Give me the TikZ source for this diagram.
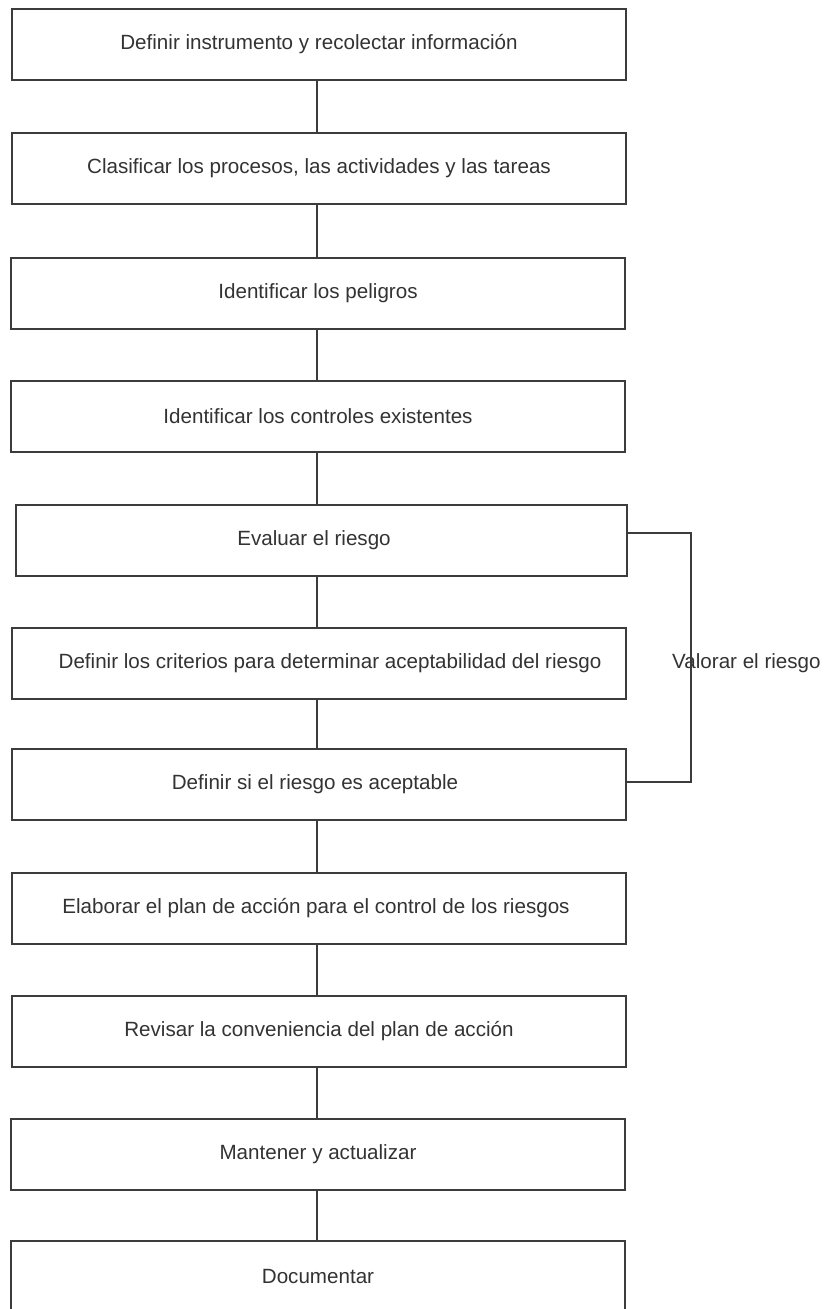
\documentclass[tikz,border=0pt]{standalone}
\usepackage{fontspec}
\setmainfont{Liberation Sans}
\usetikzlibrary{calc}
\definecolor{linec}{HTML}{3C3C3C}
\definecolor{textc}{HTML}{333333}
\tikzset{
  stepbox/.style={draw=linec, line width=2pt, minimum width=614pt, minimum height=71pt,
    inner sep=0pt, text=textc, font=\fontsize{20.6}{24}\selectfont, fill=white},
  conn/.style={draw=linec, line width=2pt},
  sidelabel/.style={text=textc, font=\fontsize{20.6}{24}\selectfont, inner sep=0pt}
}
\begin{document}
\begin{tikzpicture}[x=1pt,y=-1pt]
\clip (0,0) rectangle (827,1309);
\fill[white] (0,0) rectangle (827,1309);
\node[stepbox] (b1) at (319,44.5) {\raisebox{-2pt}{Definir instrumento y recolectar información}};
\node[stepbox] (b2) at (319,168.5) {\raisebox{-2pt}{Clasificar los procesos, las actividades y las tareas}};
\node[stepbox] (b3) at (318,293) {\raisebox{-2pt}{Identificar los peligros}};
\node[stepbox] (b4) at (318,416.5) {\raisebox{-2pt}{Identificar los controles existentes}};
\node[stepbox, minimum width=611pt] (b5) at (321.5,540) {\hspace*{-15pt}\raisebox{-2pt}{Evaluar el riesgo}};
\node[stepbox] (b6) at (319,663.5) {\hspace*{22pt}\raisebox{-2pt}{Definir los criterios para determinar aceptabilidad del riesgo}};
\node[stepbox] (b7) at (319,784.5) {\hspace*{-8pt}\raisebox{-2pt}{Definir si el riesgo es aceptable}};
\node[stepbox] (b8) at (319,908) {\hspace*{-6pt}\raisebox{-2pt}{Elaborar el plan de acción para el control de los riesgos}};
\node[stepbox] (b9) at (319,1031) {\raisebox{-2pt}{Revisar la conveniencia del plan de acción}};
\node[stepbox] (b10) at (318,1154) {\raisebox{-2pt}{Mantener y actualizar}};
\node[stepbox] (b11) at (318,1276.5) {\raisebox{-2pt}{Documentar}};
\foreach \a/\b in {b1/b2,b2/b3,b3/b4,b4/b5,b5/b6,b6/b7,b7/b8,b8/b9,b9/b10,b10/b11}{
  \draw[conn] (\a.south -| 317,0) -- (\b.north -| 317,0);
}
\node[sidelabel, anchor=base west] (vl) at (672,668) {Valorar el riesgo};
\coordinate (fb) at (691,660);
\draw[conn] ([yshift=2.5pt]b7.east) -| (fb) |- ([yshift=7pt]b5.east);
\end{tikzpicture}
\end{document}
